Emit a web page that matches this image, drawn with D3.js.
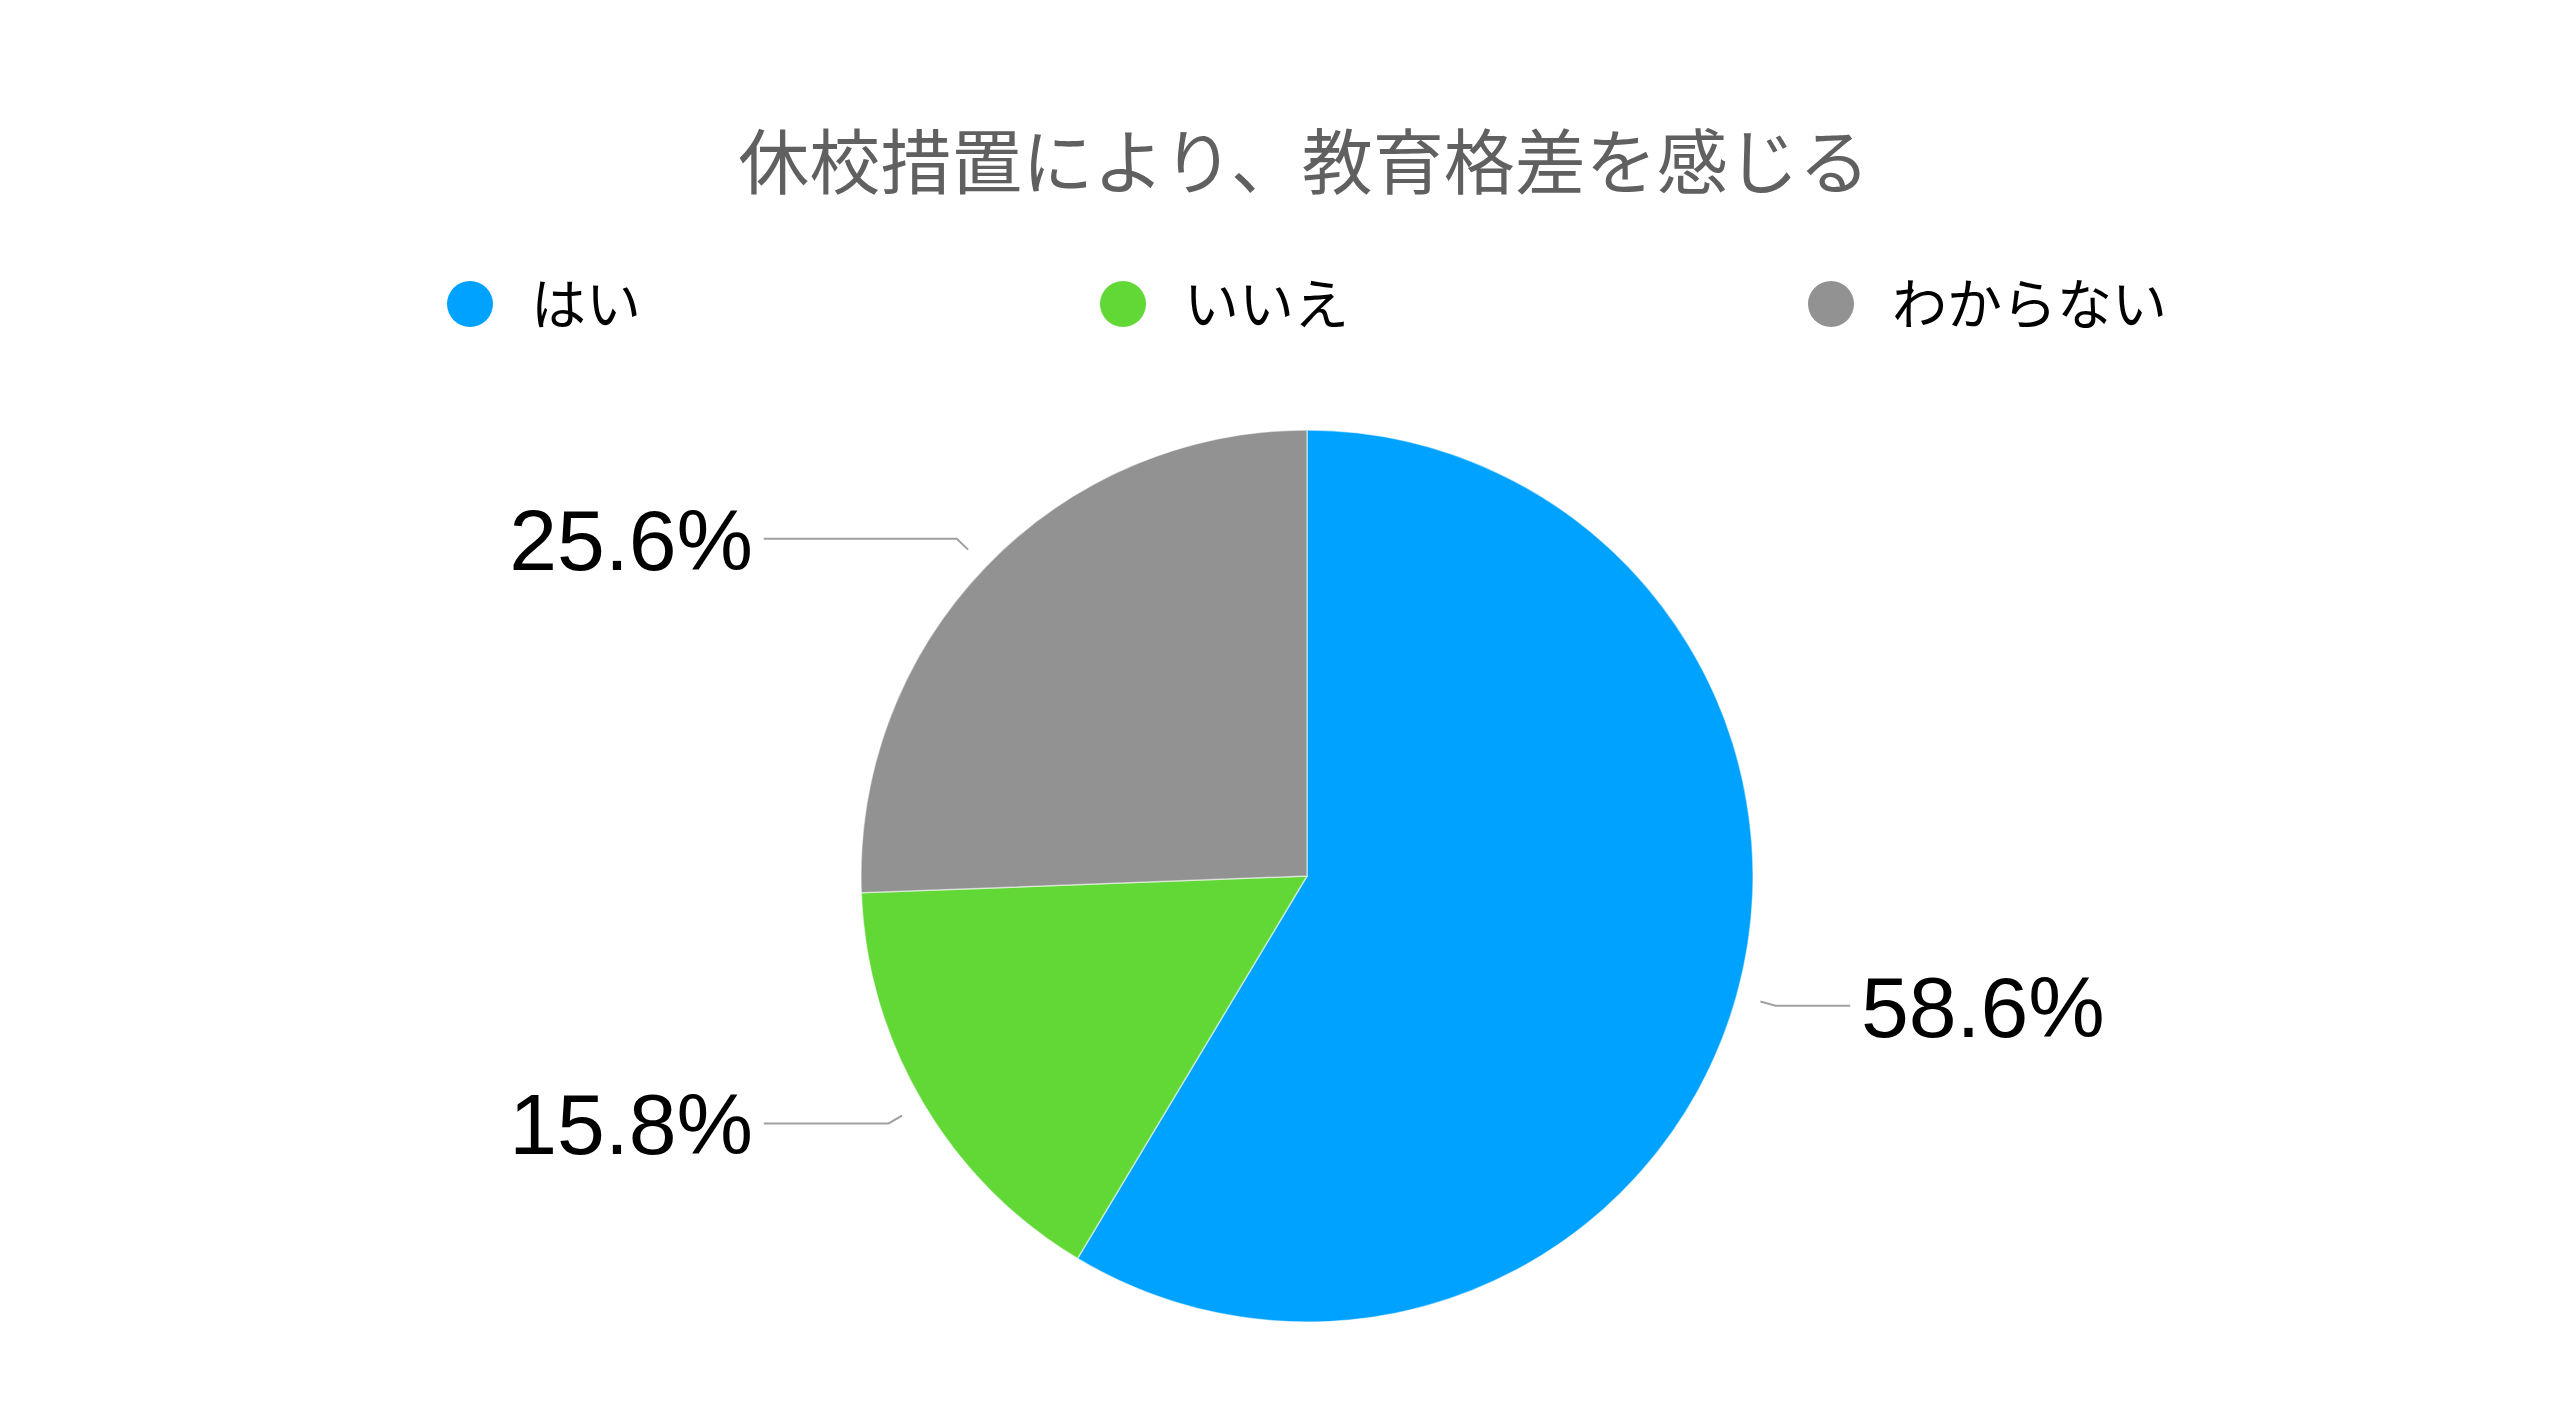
<!DOCTYPE html>
<html>
<head>
<meta charset="utf-8">
<script src="https://cdn.jsdelivr.net/npm/d3@7"></script>
<style>
  html, body { margin: 0; padding: 0; background: #ffffff; }
  svg { display: block; }
</style>
</head>
<body>
<svg id="chart" width="2560" height="1412"></svg>
<script>
// ---- data ----
const title = "休校措置により、教育格差を感じる";
const categories = ["はい", "いいえ", "わからない"];
const values = [58.6, 15.8, 25.6];
const colors = ["#00A2FF", "#61D836", "#929292"];

// ---- layout ----
const W = 2560, H = 1412;
const cx = 1307, cy = 876, r = 446;
const svg = d3.select("#chart");

// title
svg.append("text")
  .attr("x", cx - 3)
  .attr("y", 188)
  .attr("text-anchor", "middle")
  .attr("font-family", "'Noto Sans CJK JP', 'Noto Sans', sans-serif")
  .attr("font-size", 71)
  .attr("fill", "#606060")
  .text(title);

// legend (justified across a fixed span)
const legendY = 304, dotR = 23, dotGap = 38;
const spanL = cx - 860, spanR = cx + 860;
const legend = svg.append("g");
const items = legend.selectAll("g.item")
  .data(categories)
  .join("g")
  .attr("class", "item");
items.append("circle")
  .attr("r", dotR)
  .attr("fill", (d, i) => colors[i]);
items.append("text")
  .attr("x", dotR + dotGap)
  .attr("y", 0)
  .attr("dy", "0.36em")
  .attr("font-family", "'Noto Sans CJK JP', sans-serif")
  .attr("font-size", 55)
  .attr("fill", "#000")
  .text(d => d);
const widths = [];
items.each(function() {
  const t = d3.select(this).select("text").node().getComputedTextLength();
  widths.push(2 * dotR + dotGap + t);
});
const totalW = d3.sum(widths);
const gap = (spanR - spanL - totalW) / (categories.length - 1);
let xpos = spanL;
items.each(function(d, i) {
  d3.select(this).attr("transform", `translate(${xpos + dotR},${legendY})`);
  xpos += widths[i] + gap;
});

// pie
const pie = d3.pie().sort(null).value(d => d)(values);
const arc = d3.arc().innerRadius(0).outerRadius(r);
const g = svg.append("g").attr("transform", `translate(${cx},${cy})`);
g.selectAll("path.slice")
  .data(pie)
  .join("path")
  .attr("class", "slice")
  .attr("d", arc)
  .attr("fill", (d, i) => colors[i])
  .attr("stroke", "#ffffff")
  .attr("stroke-opacity", 0.5)
  .attr("stroke-width", 1.5);

// leader lines + labels
const outerArc = d3.arc().innerRadius(r * 1.055).outerRadius(r * 1.055);
const elbowArc = d3.arc().innerRadius(r * 1.09).outerRadius(r * 1.09);
const lineEnd = r * 1.218, textPos = r * 1.242;

pie.forEach((d, i) => {
  const mid = (d.startAngle + d.endAngle) / 2;
  const right = mid < Math.PI;
  const p0 = outerArc.centroid(d);
  const p1 = elbowArc.centroid(d);
  const xEnd = right ? lineEnd : -lineEnd;
  g.append("polyline")
    .attr("points", [p0, p1, [xEnd, p1[1]]].map(p => p.join(",")).join(" "))
    .attr("fill", "none")
    .attr("stroke", "#a0a0a0")
    .attr("stroke-width", 2);
  g.append("text")
    .attr("x", right ? textPos : -textPos)
    .attr("y", p1[1])
    .attr("dy", "0.36em")
    .attr("text-anchor", right ? "start" : "end")
    .attr("font-family", "'Liberation Sans', Arial, Helvetica, sans-serif")
    .attr("font-size", 86)
    .attr("fill", "#000")
    .text(values[i].toFixed(1) + "%");
});
</script>
</body>
</html>
